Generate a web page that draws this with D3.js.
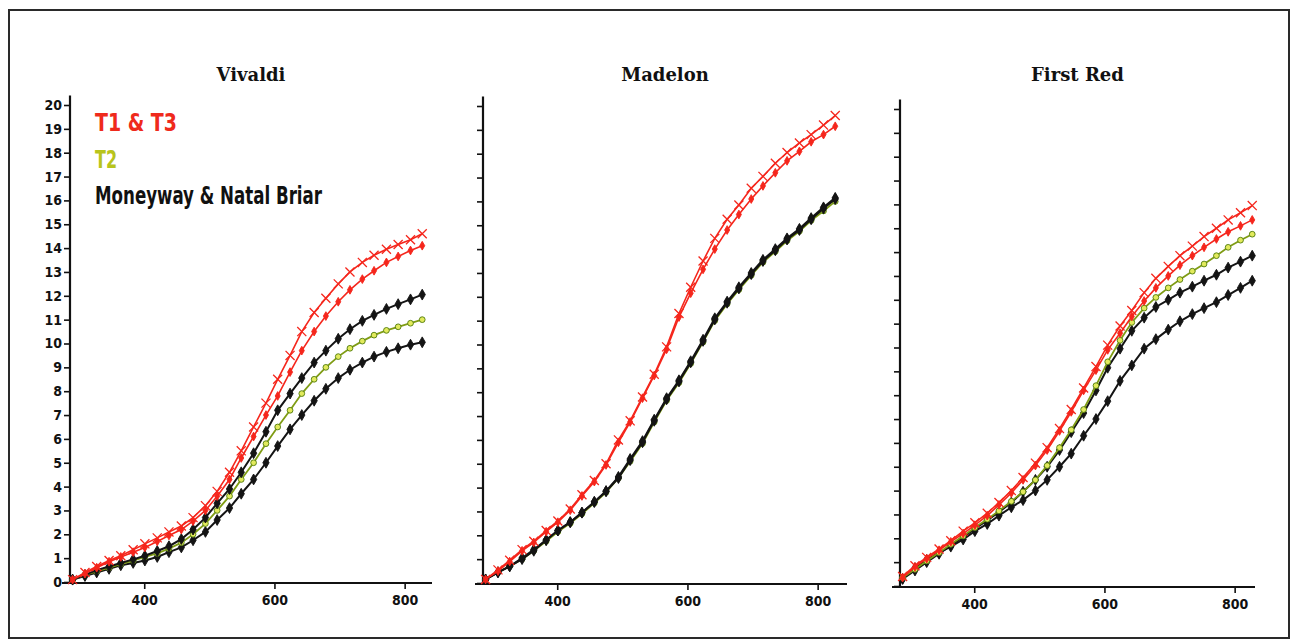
<!DOCTYPE html>
<html>
<head>
<meta charset="utf-8">
<script src="https://cdn.jsdelivr.net/npm/d3@7"></script>
<style>
  body { margin: 0; background: #fff; }
  svg { display: block; }
  .tick text { font-family: "DejaVu Sans Condensed", "DejaVu Sans", sans-serif; font-weight: bold; font-size: 14px; fill: #111; }
  .tick line { stroke: #111; stroke-width: 1.6; }
</style>
</head>
<body>
<div id="chart"></div>
<script>
// sampling points on the x axis (same for every panel)
const days = [290, 309, 327, 346, 364, 383, 401, 420, 438, 457, 475, 494, 512, 531, 549,
              568, 587, 605, 624, 642, 661, 679, 698, 716, 735, 753, 772, 790, 809, 827];

const xTickValues = [400, 600, 800];
const yTickValues = [0, 1, 2, 3, 4, 5, 6, 7, 8, 9, 10, 11, 12, 13, 14, 15, 16, 17, 18, 19, 20];
const panelTitles = ['Vivaldi', 'Madelon', 'First Red'];
const legendLabels = ['T1 & T3', 'T2', 'Moneyway & Natal Briar'];

// Vivaldi
const vivT1 = [0.1, 0.4, 0.65, 0.9, 1.1, 1.35, 1.6, 1.85, 2.1, 2.35, 2.7, 3.2, 3.8, 4.6, 5.5, 6.5, 7.5, 8.5, 9.5, 10.5, 11.3, 11.9, 12.5, 13.0, 13.4, 13.7, 13.95, 14.15, 14.35, 14.6];
const vivT3 = [0.1, 0.35, 0.6, 0.85, 1.05, 1.25, 1.45, 1.7, 1.95, 2.2, 2.55, 3.0, 3.6, 4.3, 5.2, 6.1, 7.0, 7.8, 8.8, 9.7, 10.5, 11.15, 11.75, 12.25, 12.7, 13.05, 13.4, 13.65, 13.9, 14.1];
const vivT2 = [0.1, 0.3, 0.45, 0.6, 0.75, 0.9, 1.05, 1.2, 1.4, 1.65, 2.0, 2.45, 3.0, 3.6, 4.3, 5.0, 5.8, 6.5, 7.2, 7.9, 8.5, 9.0, 9.45, 9.8, 10.1, 10.35, 10.55, 10.7, 10.85, 11.0];
const vivMoneyway = [0.1, 0.3, 0.5, 0.65, 0.8, 0.95, 1.1, 1.3, 1.5, 1.8, 2.2, 2.7, 3.3, 3.9, 4.6, 5.4, 6.3, 7.2, 7.9, 8.55, 9.2, 9.7, 10.2, 10.6, 10.95, 11.2, 11.45, 11.65, 11.85, 12.05];
const vivNatal = [0.1, 0.25, 0.4, 0.55, 0.7, 0.8, 0.9, 1.05, 1.25, 1.45, 1.75, 2.1, 2.6, 3.1, 3.7, 4.3, 5.0, 5.7, 6.4, 7.0, 7.6, 8.1, 8.55, 8.9, 9.2, 9.45, 9.65, 9.8, 9.95, 10.05];

// Madelon
const madT1 = [0.15, 0.55, 0.95, 1.4, 1.75, 2.2, 2.6, 3.1, 3.7, 4.3, 5.0, 6.0, 6.8, 7.8, 8.75, 9.9, 11.3, 12.4, 13.5, 14.45, 15.25, 15.85, 16.55, 17.05, 17.6, 18.05, 18.45, 18.8, 19.2, 19.6];
const madT3 = [0.15, 0.5, 0.9, 1.35, 1.7, 2.15, 2.55, 3.05, 3.65, 4.25, 4.95, 5.9, 6.75, 7.75, 8.7, 9.8, 11.15, 12.15, 13.15, 14.0, 14.8, 15.45, 16.1, 16.65, 17.2, 17.7, 18.1, 18.5, 18.8, 19.15];
const madT2 = [0.15, 0.45, 0.7, 1.0, 1.35, 1.75, 2.15, 2.5, 2.9, 3.35, 3.8, 4.4, 5.1, 5.85, 6.75, 7.65, 8.4, 9.2, 10.1, 11.0, 11.7, 12.3, 12.9, 13.45, 13.9, 14.35, 14.75, 15.2, 15.6, 16.0];
const madMoneyway = [0.15, 0.45, 0.7, 1.05, 1.4, 1.8, 2.2, 2.55, 2.95, 3.4, 3.85, 4.45, 5.2, 5.95, 6.85, 7.75, 8.5, 9.3, 10.2, 11.1, 11.8, 12.4, 13.0, 13.55, 14.0, 14.45, 14.85, 15.3, 15.75, 16.15];
const madNatal = [0.15, 0.45, 0.7, 1.0, 1.35, 1.8, 2.2, 2.55, 2.95, 3.4, 3.85, 4.4, 5.15, 5.9, 6.8, 7.7, 8.45, 9.25, 10.15, 11.05, 11.75, 12.35, 12.95, 13.5, 13.95, 14.4, 14.8, 15.25, 15.7, 16.1];

// First Red
const frT1 = [0.4, 0.85, 1.2, 1.55, 1.9, 2.3, 2.65, 3.05, 3.5, 4.0, 4.55, 5.15, 5.8, 6.6, 7.4, 8.3, 9.2, 10.1, 10.9, 11.55, 12.3, 12.9, 13.4, 13.85, 14.25, 14.65, 15.0, 15.35, 15.65, 15.95];
const frT3 = [0.35, 0.8, 1.15, 1.5, 1.85, 2.2, 2.55, 2.95, 3.4, 3.9, 4.45, 5.05, 5.7, 6.5, 7.3, 8.2, 9.05, 9.9, 10.6, 11.3, 11.95, 12.5, 13.0, 13.45, 13.85, 14.2, 14.55, 14.85, 15.1, 15.35];
const frT2 = [0.35, 0.7, 1.05, 1.4, 1.75, 2.1, 2.45, 2.8, 3.15, 3.55, 3.95, 4.45, 5.05, 5.8, 6.55, 7.4, 8.4, 9.4, 10.3, 11.05, 11.65, 12.1, 12.5, 12.85, 13.2, 13.5, 13.85, 14.2, 14.5, 14.75];
const frMoneyway = [0.3, 0.65, 1.0, 1.35, 1.7, 2.05, 2.4, 2.75, 3.1, 3.5, 3.95, 4.45, 5.0, 5.7, 6.45, 7.25, 8.2, 9.15, 9.95, 10.7, 11.25, 11.7, 12.0, 12.3, 12.55, 12.8, 13.05, 13.35, 13.6, 13.85];
const frNatal = [0.3, 0.75, 1.1, 1.4, 1.65, 1.95, 2.3, 2.6, 2.95, 3.3, 3.6, 4.0, 4.45, 5.0, 5.55, 6.3, 7.0, 7.75, 8.6, 9.25, 9.95, 10.35, 10.75, 11.1, 11.4, 11.65, 11.9, 12.2, 12.5, 12.8];

const W = 1296, H = 643;
const RED = '#f5261c', GREEN = '#7f9c14', BLACK = '#141414';

// draw order: bottom to top
const panelSeries = [
  [['natal', vivNatal], ['t2', vivT2], ['money', vivMoneyway], ['t3', vivT3], ['t1', vivT1]],
  [['t2', madT2], ['natal', madNatal], ['money', madMoneyway], ['t3', madT3], ['t1', madT1]],
  [['natal', frNatal], ['money', frMoneyway], ['t2', frT2], ['t3', frT3], ['t1', frT1]],
];

// panel placement (y axis x position, pixel of value 0)
const layout = [
  { x0: 70, y0: 582, width: 362 },
  { x0: 483, y0: 583, width: 364 },
  { x0: 900, y0: 586, width: 355 },
];

const timesSym = d3.symbolTimes || {
  draw(ctx, size) {
    const r = Math.sqrt(size) / 2;
    ctx.moveTo(-r, -r); ctx.lineTo(r, r);
    ctx.moveTo(-r, r); ctx.lineTo(r, -r);
  }
};

const styles = {
  t1: { stroke: RED, width: 1.6, symbol: timesSym, size: 55, fill: 'none', mStroke: RED },
  t3: { stroke: RED, width: 1.6, symbol: d3.symbolDiamond, size: 22, fill: RED, mStroke: RED },
  t2: { stroke: GREEN, width: 1.8, symbol: d3.symbolCircle, size: 26, fill: '#e2ea5c', mStroke: '#4f7a0c' },
  money: { stroke: BLACK, width: 2, symbol: d3.symbolDiamond, size: 34, fill: BLACK, mStroke: BLACK },
  natal: { stroke: BLACK, width: 2, symbol: d3.symbolDiamond, size: 34, fill: BLACK, mStroke: BLACK },
};

const svg = d3.select('#chart').append('svg')
  .attr('width', W)
  .attr('height', H);

svg.append('rect')
  .attr('width', W).attr('height', H)
  .attr('fill', '#fff');

// outer frame
svg.append('rect')
  .attr('x', 9).attr('y', 10)
  .attr('width', 1280).attr('height', 628)
  .attr('fill', 'none')
  .attr('stroke', '#2a2a2a')
  .attr('stroke-width', 2);

function drawPanel(title, series, lay, first) {
  const x = d3.scaleLinear().domain([286, 842]).range([lay.x0, lay.x0 + 362]);
  const y = d3.scaleLinear().domain([0, 20]).range([lay.y0, lay.y0 - 477]);
  const g = svg.append('g');

  // title
  g.append('text')
    .attr('x', lay.x0 + lay.width / 2)
    .attr('y', 81)
    .attr('text-anchor', 'middle')
    .style('font-family', '"DejaVu Serif", serif')
    .style('font-weight', 'bold')
    .style('font-size', '18px')
    .attr('fill', '#111')
    .text(title);

  // y axis
  const yAxis = d3.axisLeft(y)
    .tickValues(yTickValues)
    .tickSize(6)
    .tickSizeOuter(0)
    .tickPadding(2)
    .tickFormat(first ? d3.format('d') : () => '');
  g.append('g')
    .attr('transform', `translate(${lay.x0},0)`)
    .call(yAxis)
    .call(a => a.select('.domain').remove());

  g.append('line')
    .attr('x1', lay.x0).attr('x2', lay.x0)
    .attr('y1', lay.y0 + 1).attr('y2', y(20.4))
    .attr('stroke', '#111').attr('stroke-width', 2.2);

  // x axis
  const xAxis = d3.axisBottom(x)
    .tickValues(xTickValues)
    .tickSize(6)
    .tickSizeOuter(0)
    .tickPadding(6)
    .tickFormat(d3.format('d'));
  g.append('g')
    .attr('transform', `translate(0,${lay.y0 + 1})`)
    .call(xAxis)
    .call(a => a.select('.domain').remove());

  g.append('line')
    .attr('x1', lay.x0 - 8).attr('x2', lay.x0 + lay.width)
    .attr('y1', lay.y0 + 1).attr('y2', lay.y0 + 1)
    .attr('stroke', '#111').attr('stroke-width', 2.2);

  const line = d3.line()
    .x((d, i) => x(days[i]))
    .y(d => y(d));

  series.forEach(([key, values]) => {
    const st = styles[key];
    g.append('path')
      .datum(values)
      .attr('fill', 'none')
      .attr('stroke', st.stroke)
      .attr('stroke-width', st.width)
      .attr('d', line);

    g.append('g')
      .selectAll('path')
      .data(values)
      .enter()
      .append('path')
      .attr('transform', (d, i) => `translate(${x(days[i])},${y(d)})`)
      .attr('d', d3.symbol().type(st.symbol).size(st.size))
      .attr('fill', st.fill)
      .attr('stroke', st.mStroke)
      .attr('stroke-width', key === 't1' ? 1.3 : 0.9);
  });
}

panelTitles.forEach((t, i) => drawPanel(t, panelSeries[i], layout[i], i === 0));

// legend inside the first panel
const legendColors = ['#ef2a1c', '#b8c41c', '#111'];
const legendY = [131, 168, 204];
const legendLen = [82, 22, 227];
legendLabels.forEach((label, i) => {
  svg.append('text')
    .attr('x', 95)
    .attr('y', legendY[i])
    .attr('textLength', legendLen[i])
    .attr('lengthAdjust', 'spacingAndGlyphs')
    .style('font-family', '"DejaVu Sans Condensed", "DejaVu Sans", sans-serif')
    .style('font-weight', 'bold')
    .style('font-size', '24px')
    .attr('fill', legendColors[i])
    .text(label);
});
</script>
</body>
</html>
